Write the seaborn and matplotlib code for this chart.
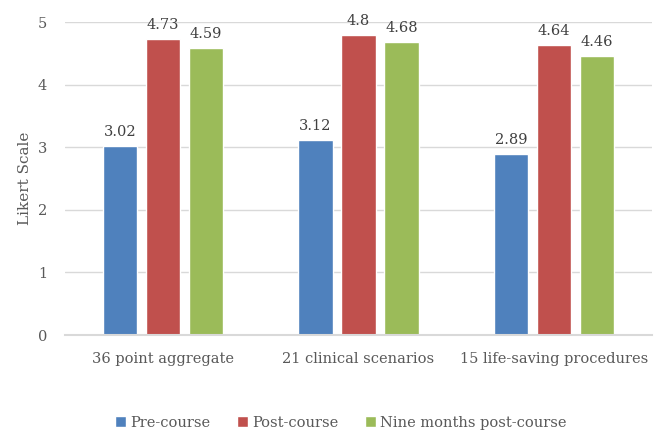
import matplotlib
matplotlib.use('Agg')
import matplotlib.pyplot as plt
import pandas as pd
import seaborn as sns

categories = ['36 point aggregate', '21 clinical scenarios', '15 life-saving procedures']
series = ['Pre-course', 'Post-course', 'Nine months post-course']
pre_course = [3.02, 3.12, 2.89]
post_course = [4.73, 4.80, 4.64]
nine_months = [4.59, 4.68, 4.46]
value_labels = [['3.02', '3.12', '2.89'], ['4.73', '4.8', '4.64'], ['4.59', '4.68', '4.46']]
colors = ['#4F81BD', '#C0504D', '#9BBB59']

rows = []
for name, vals in zip(series, [pre_course, post_course, nine_months]):
    for cat, v in zip(categories, vals):
        rows.append({'category': cat, 'series': name, 'value': v})
df = pd.DataFrame(rows)

sns.set_theme(style='white')
plt.rcParams['font.family'] = ['DejaVu Serif']

fig = plt.figure(figsize=(6.61, 4.33), dpi=100)
ax = fig.add_axes([0.0983, 0.2263, 0.888, 0.7227])

sns.barplot(data=df, x='category', y='value', hue='series', order=categories,
            hue_order=series, palette=colors, width=0.66, gap=0.2,
            saturation=1, ax=ax, legend=True)

for container, labels in zip(ax.containers, value_labels):
    ax.bar_label(container, labels=labels, padding=5, fontsize=10.5, color='#404040')

ax.set_ylim(0, 5)
ax.set_xlim(-0.5, 2.5)
ax.set_yticks(range(6))
ax.yaxis.grid(True, color='#D9D9D9', linewidth=1)
ax.set_axisbelow(True)
for s in ['top', 'right', 'left']:
    ax.spines[s].set_visible(False)
ax.spines['bottom'].set_color('#D9D9D9')
ax.spines['bottom'].set_linewidth(1.5)
ax.tick_params(axis='both', length=0, labelsize=10.5, labelcolor='#595959')
ax.tick_params(axis='x', pad=12)
ax.tick_params(axis='y', pad=13)
ax.set_xlabel('')
ax.set_ylabel('Likert Scale', fontsize=11, color='#595959', labelpad=4)

ax.legend(loc='lower center', bbox_to_anchor=(0.47, -0.345), ncol=3, frameon=False,
          fontsize=10.5, labelcolor='#595959', handlelength=0.75, handleheight=0.75,
          handletextpad=0.3, columnspacing=1.8)

fig.savefig('out.png', dpi=100)
